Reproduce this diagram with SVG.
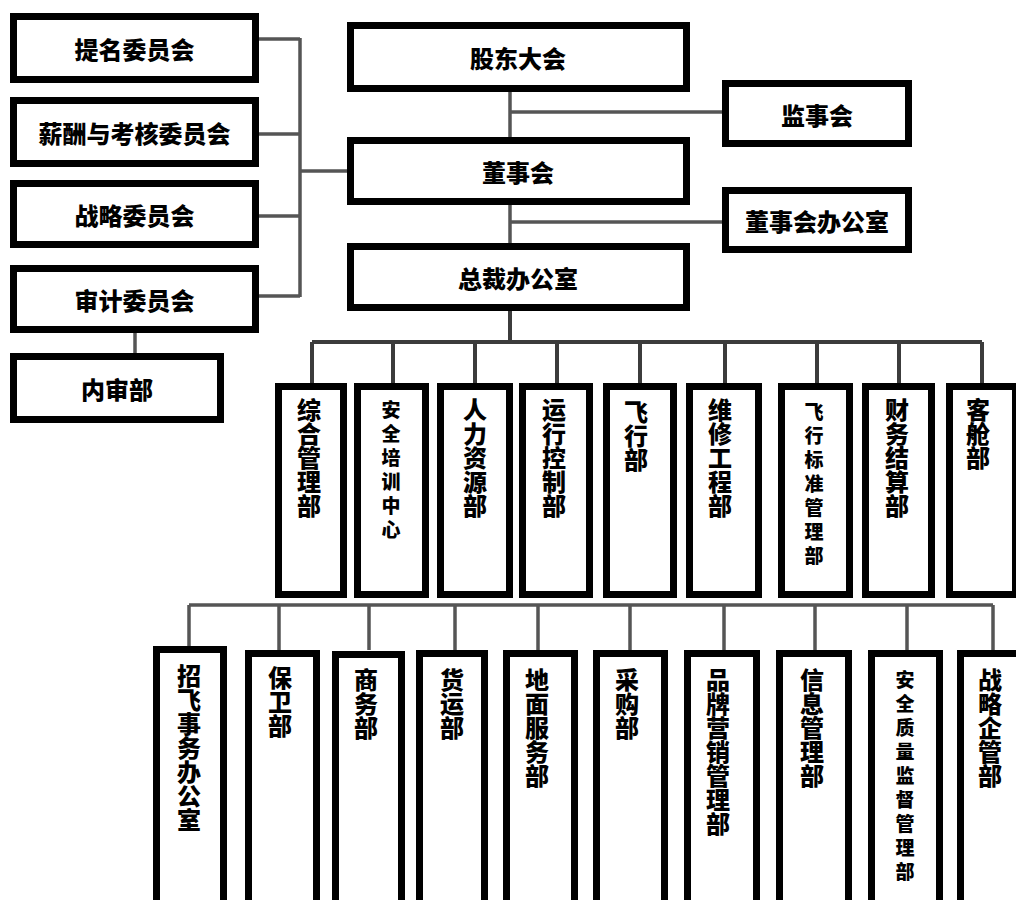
<svg xmlns="http://www.w3.org/2000/svg" width="1016" height="900" viewBox="0 0 1016 900">
<style>
.b{fill:#fff;stroke:#000;stroke-width:7}
.c{fill:none;stroke:#555;stroke-width:3.5}
.d{fill:none;stroke:#3c3c3c;stroke-width:4}
.t{font-family:"Noto Sans CJK SC","Noto Sans CJK JP",sans-serif;font-weight:900;font-size:24px;fill:#000;text-anchor:middle;dominant-baseline:central}
.v{font-family:"Noto Sans CJK SC","Noto Sans CJK JP",sans-serif;font-weight:900;font-size:24px;fill:#000;writing-mode:vertical-rl;text-anchor:start}
.s2{font-size:19px;letter-spacing:5px}
</style>
<rect width="1016" height="900" fill="#fff"/>
<g id="connectors">
  <path class="c" d="M259,39H300M259,134H300M259,216H300M259,296H300M300,38V297M300,171H347"/>
  <path class="c" d="M135,333V353"/>
  <path class="c" d="M510,92V137M510,112H722M510,204V243M510,222H722"/>
  <path class="d" d="M510,310V342M312,342H982M312,342V383M393,342V383M475,342V383M557,342V383M640,342V383M725,342V383M817,342V383M899,342V383M982,342V383"/>
  <path class="c" d="M189,605H993M189,605V646M279,605V650M369,605V650M455,605V650M538,605V650M630,605V650M724,605V650M815,605V650M907,605V650M993,605V650"/>
</g>
<g id="n-timing"><rect class="b" x="13.5" y="16.5" width="242" height="63"/><text class="t" x="134.5" y="48">提名委员会</text></g>
<g id="n-xinchou"><rect class="b" x="13.5" y="100.5" width="242" height="63"/><text class="t" x="134.5" y="132">薪酬与考核委员会</text></g>
<g id="n-zhanlue-wyh"><rect class="b" x="13.5" y="183.5" width="242" height="61"/><text class="t" x="134.5" y="214">战略委员会</text></g>
<g id="n-shenji"><rect class="b" x="13.5" y="268.5" width="242" height="61"/><text class="t" x="134.5" y="299">审计委员会</text></g>
<g id="n-neishen"><rect class="b" x="13.5" y="356.5" width="207" height="63"/><text class="t" x="117" y="388">内审部</text></g>
<g id="n-gudong"><rect class="b" x="350.5" y="25.5" width="336" height="63"/><text class="t" x="518" y="57">股东大会</text></g>
<g id="n-dongshi"><rect class="b" x="350.5" y="140.5" width="336" height="61"/><text class="t" x="518" y="171">董事会</text></g>
<g id="n-zongcai"><rect class="b" x="350.5" y="246.5" width="336" height="61"/><text class="t" x="518" y="277">总裁办公室</text></g>
<g id="n-jianshi"><rect class="b" x="725.5" y="83.5" width="183" height="60"/><text class="t" x="817" y="114">监事会</text></g>
<g id="n-dsbgs"><rect class="b" x="725.5" y="190.5" width="183" height="59"/><text class="t" x="817" y="220">董事会办公室</text></g>

<g id="n-r1-1"><rect class="b" x="278.5" y="386.5" width="65" height="208"/><text class="v" x="309" y="398">综合管理部</text></g>
<g id="n-r1-2"><rect class="b" x="357.5" y="386.5" width="68" height="208"/><text class="v s2" x="391" y="400">安全培训中心</text></g>
<g id="n-r1-3"><rect class="b" x="440.5" y="386.5" width="69" height="208"/><text class="v" x="475" y="398">人力资源部</text></g>
<g id="n-r1-4"><rect class="b" x="522.5" y="386.5" width="67" height="208"/><text class="v" x="554" y="398">运行控制部</text></g>
<g id="n-r1-5"><rect class="b" x="606.5" y="386.5" width="67" height="208"/><text class="v" x="636" y="400">飞行部</text></g>
<g id="n-r1-6"><rect class="b" x="689.5" y="386.5" width="69" height="208"/><text class="v" x="720" y="398">维修工程部</text></g>
<g id="n-r1-7"><rect class="b" x="781.5" y="386.5" width="68" height="208"/><text class="v s2" x="814" y="402">飞行标准管理部</text></g>
<g id="n-r1-8"><rect class="b" x="865.5" y="386.5" width="66" height="208"/><text class="v" x="897" y="398">财务结算部</text></g>
<g id="n-r1-9"><rect class="b" x="949.5" y="386.5" width="66" height="208"/><text class="v" x="978" y="398">客舱部</text></g>

<g id="n-r2-1"><rect class="b" x="156.5" y="649.5" width="67" height="260"/><text class="v" x="189" y="664">招飞事务办公室</text></g>
<g id="n-r2-2"><rect class="b" x="248.5" y="653.5" width="68" height="260"/><text class="v" x="280" y="666">保卫部</text></g>
<g id="n-r2-3"><rect class="b" x="335.5" y="654.5" width="66" height="260"/><text class="v" x="366" y="668">商务部</text></g>
<g id="n-r2-4"><rect class="b" x="419.5" y="653.5" width="65" height="260"/><text class="v" x="452" y="668">货运部</text></g>
<g id="n-r2-5"><rect class="b" x="506.5" y="653.5" width="68" height="260"/><text class="v" x="537" y="668">地面服务部</text></g>
<g id="n-r2-6"><rect class="b" x="596.5" y="653.5" width="68" height="260"/><text class="v" x="627" y="668">采购部</text></g>
<g id="n-r2-7"><rect class="b" x="687.5" y="653.5" width="69" height="260"/><text class="v" x="718" y="668">品牌营销管理部</text></g>
<g id="n-r2-8"><rect class="b" x="779.5" y="653.5" width="69" height="260"/><text class="v" x="812" y="668">信息管理部</text></g>
<g id="n-r2-9"><rect class="b" x="871.5" y="653.5" width="68" height="260"/><text class="v s2" x="905" y="670">安全质量监督管理部</text></g>
<g id="n-r2-10"><rect class="b" x="960.5" y="653.5" width="68" height="260"/><text class="v" x="990" y="668">战略企管部</text></g>
</svg>
